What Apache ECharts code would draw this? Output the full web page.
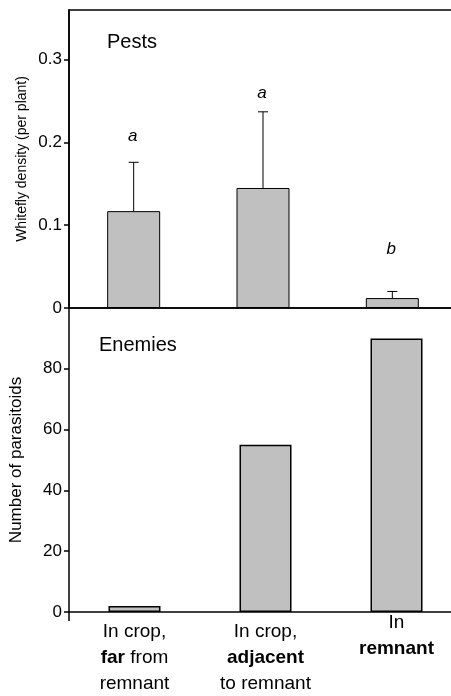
<!DOCTYPE html>
<html><head><meta charset="utf-8">
<script src="https://cdn.jsdelivr.net/npm/echarts@6/dist/echarts.min.js"></script>
<style>html,body{margin:0;padding:0;background:#fff}#c{width:451px;height:696px}</style>
</head><body><div id="c"></div>
<script>
// ---- data ----
const categories = ['far', 'adjacent', 'remnant'];
const categoryLabels = [
  '{s| }\nIn crop,\n{b|far} from\nremnant',
  '{s| }\nIn crop,\n{b|adjacent}\nto remnant',
  'In\n{b|remnant}'
];
const whiteflyMean = [0.117, 0.145, 0.012];
const whiteflySE = [0.059, 0.092, 0.008];
const letters = ['a', 'a', 'b'];
const letterY = [0.208, 0.259, 0.071];
const parasitoids = [2, 55, 90];
const topTicks = [0, 0.1, 0.2, 0.3];
const bottomTicks = [0, 20, 40, 60, 80];

const FONT = '"Liberation Sans", Arial, sans-serif';
const chart = echarts.init(document.getElementById('c'), null, {renderer: 'canvas'});

const errData = categories.map((c, i) => [i, whiteflyMean[i], whiteflyMean[i] + whiteflySE[i]]);
const letterData = categories.map((c, i) => [i, letterY[i], letters[i]]);

const option = {
  animation: false,
  backgroundColor: '#fff',
  title: [
    {text: 'Pests', left: 107, top: 32, padding: 0, textStyle: {fontFamily: FONT, fontSize: 20, fontWeight: 'normal', color: '#000'}},
    {text: 'Enemies', left: 99, top: 335, padding: 0, textStyle: {fontFamily: FONT, fontSize: 20, fontWeight: 'normal', color: '#000'}}
  ],
  grid: [
    {left: 69, top: 10, width: 388, height: 298, outerBoundsMode: 'none', containLabel: false,
     show: true, borderColor: '#000', borderWidth: 1.5, backgroundColor: 'transparent'},
    {left: 69, top: 308, width: 393, height: 304, outerBoundsMode: 'none', containLabel: false}
  ],
  xAxis: [
    {type: 'category', gridIndex: 0, data: categories,
     axisLine: {lineStyle: {color: '#000', width: 1.5}}, axisTick: {show: false}, axisLabel: {show: false}},
    {type: 'category', gridIndex: 1, data: categories.map((c, i) => categoryLabels[i]),
     axisLine: {lineStyle: {color: '#000', width: 1.5}},
     axisTick: {show: true, length: 9, interval: (idx) => idx === 0, lineStyle: {color: '#000', width: 1.5}},
     axisLabel: {interval: 0, margin: -2, fontFamily: FONT, fontSize: 19, lineHeight: 26, color: '#000',
       rich: {b: {fontFamily: FONT, fontSize: 19, fontWeight: 'bold', lineHeight: 26, color: '#000'},
              s: {fontSize: 1, lineHeight: 9}}}}
  ],
  yAxis: [
    {type: 'value', gridIndex: 0, min: 0, max: 0.36,
     name: 'Whitefly density (per plant)', nameLocation: 'middle', nameGap: 40, nameMoveOverlap: false,
     nameTextStyle: {fontFamily: FONT, fontSize: 14, color: '#000'},
     axisLine: {show: true, lineStyle: {color: '#000', width: 1.5}},
     axisTick: {show: true, length: 5, customValues: topTicks, lineStyle: {color: '#000', width: 1.5}},
     axisLabel: {customValues: topTicks, margin: 7, fontFamily: FONT, fontSize: 17, color: '#000',
       formatter: v => v === 0 ? '0' : v.toFixed(1)},
     splitLine: {show: false}},
    {type: 'value', gridIndex: 1, min: 0, max: 100,
     name: 'Number of parasitoids', nameLocation: 'middle', nameGap: 44, nameMoveOverlap: false,
     nameTextStyle: {fontFamily: FONT, fontSize: 17, color: '#000'},
     axisLine: {show: true, lineStyle: {color: '#000', width: 1.5}},
     axisTick: {show: true, length: 5, customValues: bottomTicks, lineStyle: {color: '#000', width: 1.5}},
     axisLabel: {customValues: bottomTicks, margin: 7, fontFamily: FONT, fontSize: 17, color: '#000'},
     splitLine: {show: false}}
  ],
  series: [
    {type: 'bar', xAxisIndex: 0, yAxisIndex: 0, data: whiteflyMean, barWidth: 53,
     itemStyle: {color: '#c0c0c0', borderColor: '#000', borderWidth: 1}},
    {type: 'custom', xAxisIndex: 0, yAxisIndex: 0, data: errData, z: 5,
     renderItem: (params, api) => {
       const p0 = api.coord([api.value(0), api.value(1)]);
       const p1 = api.coord([api.value(0), api.value(2)]);
       const st = {stroke: '#000', lineWidth: 1};
       return {type: 'group', children: [
         {type: 'line', shape: {x1: p0[0], y1: p0[1], x2: p1[0], y2: p1[1]}, style: st},
         {type: 'line', shape: {x1: p1[0] - 5, y1: p1[1], x2: p1[0] + 5, y2: p1[1]}, style: st}
       ]};
     }},
    {type: 'custom', xAxisIndex: 0, yAxisIndex: 0, data: letterData, z: 5,
     renderItem: (params, api) => {
       const p = api.coord([api.value(0), api.value(1)]);
       return {type: 'text', x: p[0] - 1, y: p[1], style: {text: letters[params.dataIndex], fill: '#000',
         font: 'italic 17px ' + FONT, align: 'center', verticalAlign: 'middle'}};
     }},
    {type: 'bar', xAxisIndex: 1, yAxisIndex: 1, data: parasitoids, barWidth: 52,
     itemStyle: {color: '#c0c0c0', borderColor: '#000', borderWidth: 1.5}}
  ]
};
chart.setOption(option);
</script>
</body></html>
